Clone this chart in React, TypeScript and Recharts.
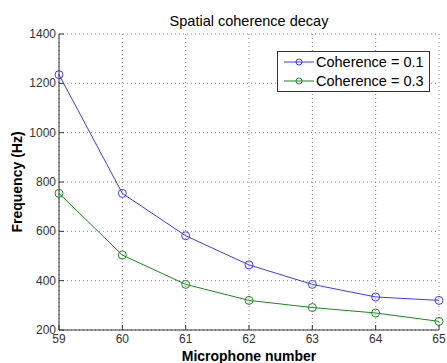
import { LineChart, Line, XAxis, YAxis, CartesianGrid, Legend, Label } from "recharts"

const mics = [59, 60, 61, 62, 63, 64, 65]
const coh01 = [1235, 754, 582, 464, 385, 334, 320]
const coh03 = [754, 504, 385, 320, 291, 269, 235]
const xTicks = [59, 60, 61, 62, 63, 64, 65]
const yTicks = [200, 400, 600, 800, 1000, 1200, 1400]

const data = mics.map((m, i) => ({ mic: m, a: coh01[i], b: coh03[i] }))

const font = "'Liberation Sans', Arial, sans-serif"
const BLUE = "#3a3aff"
const GREEN = "#1a8a1a"

const BottomTick = ({ x, y, payload }: any) => (
  <g>
    <line x1={x} x2={x} y1={y} y2={y - 5} stroke="#333" />
    <text x={x} y={y + 13} textAnchor="middle" fontSize={12} fill="#333" fontFamily={font}>
      {payload.value}
    </text>
  </g>
)
const TopTick = ({ x, y }: any) => <line x1={x} x2={x} y1={y} y2={y + 5} stroke="#333" />
const LeftTick = ({ x, y, payload }: any) => (
  <g>
    <line x1={x} x2={x + 5} y1={y} y2={y} stroke="#333" />
    <text x={x - 3} y={y + 4} textAnchor="end" fontSize={12} fill="#333" fontFamily={font}>
      {payload.value}
    </text>
  </g>
)
const RightTick = ({ x, y }: any) => <line x1={x} x2={x - 5} y1={y} y2={y} stroke="#333" />

const LegendBox = () => (
  <div style={{ width: 151, height: 39, border: "1px solid #333", background: "#fff", fontFamily: font, fontSize: 14.5, color: "#000" }}>
    {[
      { c: BLUE, t: "Coherence = 0.1" },
      { c: GREEN, t: "Coherence = 0.3" },
    ].map((r) => (
      <div key={r.t} style={{ display: "flex", alignItems: "center", height: 19 }}>
        <svg width={34} height={19} style={{ marginLeft: 4 }}>
          <line x1={2} x2={32} y1={10} y2={10} stroke={r.c} />
          <circle cx={17} cy={10} r={3} fill="none" stroke={r.c} />
        </svg>
        <span>{r.t}</span>
      </div>
    ))}
  </div>
)

export default function App() {
  return (
    <div style={{ position: "absolute", left: 0, top: 0, width: 447, height: 363, background: "#fff" }}>
      <div style={{ position: "absolute", left: 0, top: 13, width: 498, textAlign: "center", fontFamily: font, fontSize: 14.5, color: "#000" }}>
        Spatial coherence decay
      </div>
      <LineChart width={447} height={363} data={data} margin={{ top: 34, right: 8, bottom: 0, left: 0 }}>
        <CartesianGrid stroke="#888" strokeDasharray="1 3" />
        <XAxis
          dataKey="mic"
          type="number"
          domain={[59, 65]}
          ticks={xTicks}
          height={33}
          tickSize={0}
          tickMargin={0}
          stroke="#333"
          tick={<BottomTick />}
          interval={0}
        >
          <Label value="Microphone number" position="insideBottom" offset={2} style={{ fontFamily: font, fontSize: 14, fontWeight: "bold", fill: "#000" }} />
        </XAxis>
        <XAxis xAxisId="top" orientation="top" type="number" domain={[59, 65]} ticks={xTicks} height={0} tickSize={0} stroke="#333" tick={<TopTick />} interval={0} />
        <YAxis
          type="number"
          domain={[200, 1400]}
          ticks={yTicks}
          width={59}
          tickSize={0}
          tickMargin={0}
          stroke="#333"
          tick={<LeftTick />}
          interval={0}
        >
          <Label value="Frequency (Hz)" angle={-90} position="insideLeft" offset={17} style={{ textAnchor: "middle", fontFamily: font, fontSize: 14, fontWeight: "bold", fill: "#000" }} />
        </YAxis>
        <YAxis yAxisId="right" orientation="right" type="number" domain={[200, 1400]} ticks={yTicks} width={0} tickSize={0} stroke="#333" tick={<RightTick />} interval={0} />
        <Legend layout="vertical" align="center" verticalAlign="middle" content={<LegendBox />} wrapperStyle={{ left: 277, top: 51, width: 153, height: 41 }} />
        <Line dataKey="a" name="Coherence = 0.1" stroke={BLUE} strokeWidth={1} dot={{ r: 4, fill: "none", stroke: BLUE }} isAnimationActive={false} />
        <Line dataKey="b" name="Coherence = 0.3" stroke={GREEN} strokeWidth={1} dot={{ r: 4, fill: "none", stroke: GREEN }} isAnimationActive={false} />
      </LineChart>
    </div>
  )
}
